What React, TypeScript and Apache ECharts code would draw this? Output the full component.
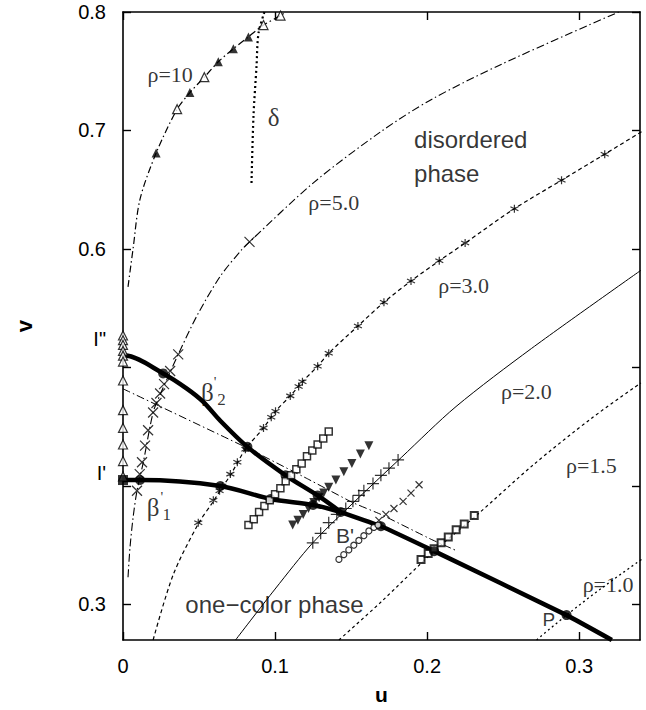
import React, { useEffect, useRef } from "react";
import * as echarts from "echarts";

// ---------- data (u, v) ----------
const uTicks = [0, 0.1, 0.2, 0.3];
const vTicks = [0.3, 0.4, 0.5, 0.6, 0.7, 0.8];
const vLabelValues = [0.3, 0.411, 0.524, 0.6, 0.7, 0.8];
const vLabelTexts = ["0.3", "I'", 'I"', "0.6", "0.7", "0.8"];

const rho10Line = [[0.0033, 0.568], [0.0066, 0.6], [0.0112, 0.642], [0.0218, 0.681], [0.0356, 0.718], [0.044, 0.732], [0.0535, 0.745], [0.0627, 0.758], [0.0726, 0.769], [0.0825, 0.779], [0.0924, 0.789], [0.1036, 0.797], [0.107, 0.8]];
const rho10Filled = [[0.0218, 0.681], [0.044, 0.732], [0.0627, 0.758], [0.0726, 0.769], [0.0825, 0.779]];
const rho10Open = [[0.0356, 0.718], [0.0535, 0.745], [0.0924, 0.789], [0.1036, 0.797]];
const deltaLine = [[0.093, 0.8], [0.0891, 0.782], [0.0878, 0.754], [0.0858, 0.712], [0.0845, 0.655]];

const rho5Line = [[0.0033, 0.323], [0.0046, 0.348], [0.0066, 0.373], [0.0092, 0.396], [0.0132, 0.419], [0.0198, 0.462], [0.0244, 0.477], [0.031, 0.496], [0.0363, 0.511], [0.0488, 0.544], [0.064, 0.577], [0.0785, 0.6], [0.0832, 0.606], [0.1254, 0.656], [0.1696, 0.699], [0.2026, 0.726], [0.249, 0.756], [0.326, 0.8]];
const rho5Marks = [[0.0832, 0.606], [0.0363, 0.511], [0.031, 0.497], [0.027, 0.486], [0.0244, 0.478], [0.022, 0.47], [0.0198, 0.462], [0.0165, 0.447], [0.0145, 0.434], [0.0125, 0.42], [0.011, 0.41], [0.0092, 0.396]];

const rho3Line = [[0.0198, 0.27], [0.033, 0.325], [0.0495, 0.368], [0.0594, 0.387], [0.0653, 0.399], [0.0706, 0.409], [0.0805, 0.431], [0.0924, 0.449], [0.1003, 0.463], [0.11, 0.476], [0.118, 0.488], [0.128, 0.501], [0.1353, 0.512], [0.1545, 0.535], [0.1716, 0.555], [0.1894, 0.573], [0.208, 0.59], [0.225, 0.605], [0.2574, 0.634], [0.2884, 0.658], [0.3168, 0.68], [0.341, 0.699]];
const rho3Marks = [[0.0495, 0.369], [0.0594, 0.388], [0.0635, 0.396], [0.0653, 0.4], [0.0706, 0.41], [0.0752, 0.42], [0.0805, 0.431], [0.0924, 0.449], [0.0975, 0.458], [0.1003, 0.463], [0.11, 0.476], [0.1155, 0.484], [0.118, 0.488], [0.128, 0.501], [0.1353, 0.512], [0.1545, 0.535], [0.1716, 0.555], [0.1894, 0.573], [0.208, 0.59], [0.225, 0.605], [0.2574, 0.634], [0.2884, 0.658], [0.3168, 0.68]];

const rho2Line = [[0.074, 0.27], [0.1, 0.313], [0.1248, 0.352], [0.15, 0.384], [0.183, 0.424], [0.219, 0.467], [0.2686, 0.516], [0.3406, 0.582]];
const rho2Plus = [[0.1248, 0.352], [0.13, 0.36], [0.1353, 0.369], [0.1406, 0.376], [0.1465, 0.381], [0.1512, 0.387], [0.1551, 0.392], [0.1584, 0.396], [0.1644, 0.402], [0.1696, 0.409], [0.1749, 0.415], [0.1809, 0.422]];

const rho15Line = [[0.142, 0.27], [0.1696, 0.302], [0.2046, 0.345], [0.2323, 0.375], [0.27, 0.418], [0.308, 0.457], [0.3406, 0.487]];
const rho15Squares = [[0.196, 0.338], [0.2007, 0.343], [0.2046, 0.347], [0.2092, 0.352], [0.2139, 0.357], [0.2191, 0.363], [0.2244, 0.368], [0.231, 0.375]];

const rho1Line = [[0.272, 0.27], [0.2917, 0.291], [0.315, 0.314], [0.341, 0.338]];

const squaresA = [[0.0825, 0.367], [0.086, 0.372], [0.0895, 0.378], [0.093, 0.383], [0.0965, 0.388], [0.1, 0.393], [0.1035, 0.398], [0.107, 0.404], [0.1105, 0.409], [0.114, 0.414], [0.1175, 0.419], [0.121, 0.425], [0.1245, 0.43], [0.128, 0.435], [0.1317, 0.44], [0.1353, 0.446]];
const trianglesB = [[0.1116, 0.367], [0.115, 0.371], [0.1185, 0.376], [0.122, 0.381], [0.1255, 0.386], [0.129, 0.39], [0.132, 0.394], [0.1353, 0.399], [0.14, 0.405], [0.1452, 0.412], [0.1505, 0.419], [0.1561, 0.427], [0.1617, 0.434]];
const crossesC = [[0.1683, 0.371], [0.1729, 0.376], [0.1782, 0.381], [0.1842, 0.387], [0.1894, 0.394], [0.1947, 0.401]];
const circlesD = [[0.142, 0.338], [0.1452, 0.342], [0.1485, 0.346], [0.1518, 0.35], [0.1551, 0.354], [0.1584, 0.358], [0.1617, 0.362], [0.165, 0.365], [0.1677, 0.367]];
const axisTriangles = [[0, 0.527], [0, 0.523], [0, 0.519], [0, 0.514], [0, 0.51], [0, 0.505], [0, 0.489], [0, 0.464], [0, 0.449], [0, 0.435], [0, 0.421], [0, 0.408]];

const beta2Line = [[0, 0.509], [0.0013, 0.51], [0.0264, 0.495], [0.0422, 0.482], [0.0528, 0.471], [0.064, 0.455], [0.0818, 0.433], [0.1069, 0.409], [0.128, 0.392], [0.1432, 0.378]];
const beta1Line = [[0, 0.405], [0.0112, 0.405], [0.064, 0.4], [0.097, 0.389], [0.125, 0.384], [0.1432, 0.378]];
const mergedLine = [[0.1432, 0.378], [0.1696, 0.366], [0.2046, 0.345], [0.2917, 0.291], [0.3215, 0.27]];
const crossingDots = [[0.0264, 0.495], [0.0818, 0.433], [0.1069, 0.409], [0.128, 0.392], [0.0112, 0.405], [0.064, 0.4], [0.097, 0.389], [0.125, 0.384], [0.1432, 0.378], [0.1696, 0.366], [0.2046, 0.345], [0.2917, 0.291]];
const thinDashDot = [[0, 0.482], [0.0818, 0.432], [0.1214, 0.406], [0.151, 0.386], [0.1696, 0.376], [0.2026, 0.355], [0.22, 0.345]];

const annotations = [
  { text: "ρ=10", u: 0.031, v: 0.747, serif: true, size: 22, align: "center" },
  { text: "δ", u: 0.099, v: 0.711, serif: true, size: 25, align: "center" },
  { text: "ρ=5.0", u: 0.1386, v: 0.639, serif: true, size: 22, align: "center" },
  { text: "disordered", u: 0.1914, v: 0.692, serif: false, size: 24, align: "left" },
  { text: "phase", u: 0.1914, v: 0.664, serif: false, size: 24, align: "left" },
  { text: "ρ=3.0", u: 0.224, v: 0.569, serif: true, size: 22, align: "center" },
  { text: "ρ=2.0", u: 0.2653, v: 0.48, serif: true, size: 22, align: "center" },
  { text: "ρ=1.5", u: 0.308, v: 0.417, serif: true, size: 22, align: "center" },
  { text: "ρ=1.0", u: 0.319, v: 0.317, serif: true, size: 22, align: "center" },
  { text: "P", u: 0.28, v: 0.287, serif: false, size: 19, align: "center" },
  { text: "B'", u: 0.146, v: 0.358, serif: false, size: 21, align: "center" },
  { text: "β", u: 0.0554, v: 0.479, serif: true, size: 25, align: "center" },
  { text: "'", u: 0.0605, v: 0.488, serif: true, size: 15, align: "center" },
  { text: "2", u: 0.0647, v: 0.473, serif: true, size: 17, align: "center" },
  { text: "β", u: 0.0198, v: 0.382, serif: true, size: 25, align: "center" },
  { text: "'", u: 0.0255, v: 0.391, serif: true, size: 15, align: "center" },
  { text: "1", u: 0.0287, v: 0.376, serif: true, size: 17, align: "center" },
  { text: "one−color phase", u: 0.041, v: 0.3, serif: false, size: 24, align: "left" },
];

const SANS = "'Liberation Sans', Arial, sans-serif";
const SERIF = "'Liberation Serif', 'Times New Roman', serif";

const PATH_X = "path://M0,0L10,10M10,0L0,10";
const PATH_PLUS = "path://M5,0L5,10M0,5L10,5";
const PATH_STAR = "path://M5,0L5,10M0.7,2.5L9.3,7.5M9.3,2.5L0.7,7.5";

function lineS(data: number[][], type: any, width: number, smooth = 0.3) {
  return {
    type: "line",
    data,
    symbol: "none",
    smooth,
    silent: true,
    z: 2,
    lineStyle: { color: "#000", width, type },
  };
}

function scatterS(data: number[][], symbol: string, size: number, style: any, rotate = 0) {
  return {
    type: "scatter",
    data,
    symbol,
    symbolSize: size,
    symbolRotate: rotate,
    silent: true,
    clip: false,
    z: 4,
    itemStyle: style,
  };
}

const strokeOnly = { color: "transparent", borderColor: "#000", borderWidth: 1.2 };

export default function App() {
  const ref = useRef<HTMLDivElement>(null);
  useEffect(() => {
    const chart = echarts.init(ref.current!, null, { renderer: "svg" });
    const annSeries = annotations.map((a) => ({
      type: "scatter",
      data: [[a.u, a.v]],
      symbolSize: 0,
      silent: true,
      z: 6,
      label: {
        show: true,
        position: "inside",
        formatter: a.text,
        fontFamily: a.serif ? SERIF : SANS,
        fontSize: a.size,
        color: "#000",
        align: a.align,
        verticalAlign: "middle",
      },
    }));
    const option: any = {
      animation: false,
      backgroundColor: "#fff",
      grid: { left: 123, right: 6, top: 12, bottom: 67 },
      xAxis: [
        {
          type: "value",
          min: 0,
          max: 0.34,
          interval: 0.1,
          name: "u",
          nameLocation: "middle",
          nameGap: 44,
          nameTextStyle: { fontFamily: SANS, fontSize: 21, fontWeight: "bold", color: "#000" },
          axisLine: { show: true, onZero: false, lineStyle: { color: "#000", width: 1.6 } },
          axisTick: { show: true, inside: true, length: 8, lineStyle: { color: "#000", width: 1.4 }, customValues: uTicks },
          axisLabel: { fontFamily: SANS, fontSize: 20, color: "#000", margin: 16, customValues: uTicks },
          splitLine: { show: false },
        },
        {
          type: "value",
          position: "top",
          min: 0,
          max: 0.34,
          interval: 0.1,
          axisLine: { show: true, onZero: false, lineStyle: { color: "#000", width: 1.6 } },
          axisTick: { show: true, inside: true, length: 8, lineStyle: { color: "#000", width: 1.4 }, customValues: uTicks },
          axisLabel: { show: false },
          splitLine: { show: false },
        },
      ],
      yAxis: [
        {
          type: "value",
          min: 0.27,
          max: 0.8,
          name: "v",
          nameLocation: "middle",
          nameGap: 88,
          nameTextStyle: { fontFamily: SANS, fontSize: 22, fontWeight: "bold", color: "#000" },
          axisLine: { show: true, onZero: false, lineStyle: { color: "#000", width: 1.6 } },
          axisTick: { show: true, inside: true, length: 8, lineStyle: { color: "#000", width: 1.4 }, customValues: vTicks },
          axisLabel: {
            fontFamily: SANS,
            fontSize: 20,
            color: "#000",
            margin: 17,
            customValues: vLabelValues,
            formatter: (val: number) => {
              const i = vLabelValues.findIndex((x) => Math.abs(x - val) < 1e-6);
              return i >= 0 ? vLabelTexts[i] : "";
            },
          },
          splitLine: { show: false },
        },
        {
          type: "value",
          position: "right",
          min: 0.27,
          max: 0.8,
          axisLine: { show: true, onZero: false, lineStyle: { color: "#000", width: 1.6 } },
          axisTick: { show: true, inside: true, length: 8, lineStyle: { color: "#000", width: 1.4 }, customValues: vTicks },
          axisLabel: { show: false },
          splitLine: { show: false },
        },
      ],
      series: [
        lineS(rho10Line, [7, 3, 1.5, 3], 1.2),
        scatterS(rho10Filled, "triangle", 9, { color: "#000" }),
        scatterS(rho10Open, "triangle", 9, { color: "#fff", borderColor: "#000", borderWidth: 1.2 }),
        lineS(deltaLine, [2, 3], 2.2),
        lineS(rho5Line, [8, 3, 1.5, 3], 1.1),
        scatterS(rho5Marks, PATH_X, 10, strokeOnly),
        lineS(rho3Line, [4, 3], 1.2),
        scatterS(rho3Marks, PATH_STAR, 8, strokeOnly),
        lineS(rho2Line, "solid", 1),
        scatterS(rho2Plus, PATH_PLUS, 12, strokeOnly),
        lineS(rho15Line, [3, 3], 1.2),
        scatterS(rho15Squares, "rect", 7, { color: "#fff", borderColor: "#000", borderWidth: 2 }),
        lineS(rho1Line, [2, 3], 1.3),
        lineS(thinDashDot, [8, 3, 1.5, 3], 1, 0.1),
        lineS(beta2Line, "solid", 4.5),
        lineS(beta1Line, "solid", 4.5),
        lineS(mergedLine, "solid", 4.5, 0.1),
        scatterS(crossingDots, "circle", 10, { color: "#000" }),
        scatterS(squaresA, "rect", 7, { color: "#fff", borderColor: "#000", borderWidth: 1.5 }),
        scatterS(trianglesB, "triangle", 9, { color: "#000" }, 180),
        scatterS(crossesC, PATH_X, 7, strokeOnly),
        scatterS(circlesD, "circle", 6, { color: "#fff", borderColor: "#000", borderWidth: 1.2 }),
        scatterS(axisTriangles, "triangle", 9, { color: "#fff", borderColor: "#000", borderWidth: 1.2 }),
        scatterS([[0, 0.405]], "rect", 10, { color: "#000" }),
        ...annSeries,
      ],
    };
    chart.setOption(option);
    return () => chart.dispose();
  }, []);
  return <div ref={ref} style={{ position: "absolute", left: 0, top: 0, width: 646, height: 710 }} />;
}
